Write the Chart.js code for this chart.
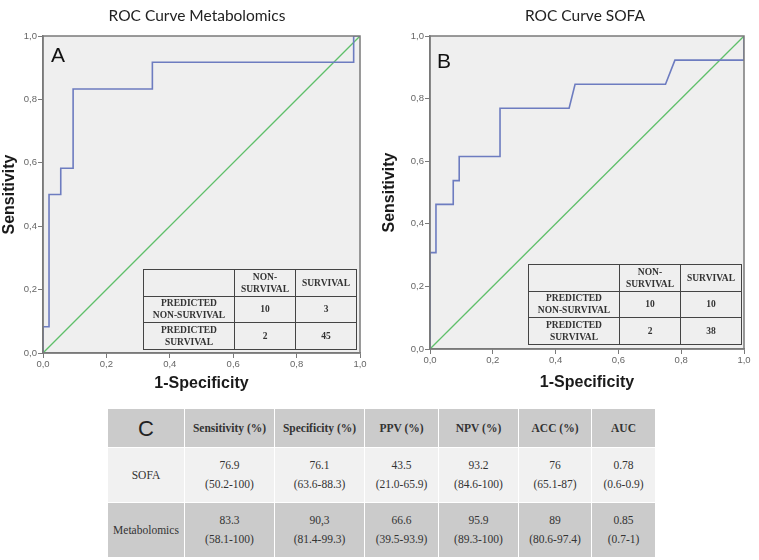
<!DOCTYPE html>
<html>
<head>
<meta charset="utf-8">
<script src="https://cdn.jsdelivr.net/npm/chart.js@4.4.1/dist/chart.umd.min.js"></script>
<style>
body{margin:0;background:#fff;width:759px;height:560px;position:relative;overflow:hidden;}
canvas{position:absolute;top:0;}
.ttl{position:absolute;top:5px;width:240px;line-height:20px;font-family:Lato,'Open Sans',sans-serif;font-size:15.5px;color:#222;text-align:center;white-space:nowrap;}
.lett{position:absolute;line-height:21px;font-family:'Liberation Sans',Arial,sans-serif;font-size:21px;color:#111;}
table{position:absolute;table-layout:fixed;text-align:center;color:#333;font-family:'Liberation Serif','Times New Roman',serif;}
table.inset{border-collapse:collapse;font-weight:bold;font-size:9.5px;line-height:12px;}
table.inset td{border:1.5px solid #444;padding:0;}
table.res{border-collapse:collapse;font-size:11.5px;}
table.res td{border:1.5px solid #fff;padding:0;line-height:19px;}
table.res tr.hd td{background:#cbcbcb;font-weight:bold;}
table.res tr.r1 td{background:#f1f1f1;}
table.res tr.r2 td{background:#cbcbcb;}
</style>
</head>
<body>
<canvas id="rocA" width="380" height="395" style="left:0"></canvas>
<canvas id="rocB" width="379" height="395" style="left:380px"></canvas>
<div class="ttl" style="left:77px">ROC Curve Metabolomics</div>
<div class="ttl" style="left:465px">ROC Curve SOFA</div>
<div class="lett" style="left:51px;top:44px">A</div>
<div class="lett" style="left:437px;top:50px">B</div>
<table class="inset" id="confA" style="left:143px;top:269px;width:213px;height:81px"></table>
<table class="inset" id="confB" style="left:528px;top:264px;width:213px;height:81px"></table>
<table class="res" id="tabC" style="left:107px;top:408px;width:548px;height:149px"></table>
<script>
// ROC curve A (metabolomics)
const metaFpr = [0, 0, 0.019, 0.019, 0.056, 0.056, 0.095, 0.095, 0.345, 0.345, 0.98, 0.98, 1];
const metaTpr = [0, 0.083, 0.083, 0.5, 0.5, 0.583, 0.583, 0.833, 0.833, 0.917, 0.917, 1, 1];
// ROC curve B (SOFA)
const sofaFpr = [0, 0, 0.019, 0.019, 0.074, 0.074, 0.093, 0.093, 0.223, 0.223, 0.443, 0.462, 0.75, 0.78, 1, 1];
const sofaTpr = [0, 0.308, 0.308, 0.462, 0.462, 0.538, 0.538, 0.615, 0.615, 0.769, 0.769, 0.846, 0.846, 0.923, 0.923, 1];
const refLine = [0, 1];
const axisTicks = [0, 0.2, 0.4, 0.6, 0.8, 1];

// confusion matrices
const confHead = ['', 'NON-<br>SURVIVAL', 'SURVIVAL'];
const confRows = ['PREDICTED<br>NON-SURVIVAL', 'PREDICTED<br>SURVIVAL'];
const metaConf = [[10, 3], [2, 45]];
const sofaConf = [[10, 10], [2, 38]];

// table C
const metricNames = ['Sensitivity (%)', 'Specificity (%)', 'PPV (%)', 'NPV (%)', 'ACC (%)', 'AUC'];
const modelNames = ['SOFA', 'Metabolomics'];
const sofaVals = ['76.9', '76.1', '43.5', '93.2', '76', '0.78'];
const sofaCI = ['(50.2-100)', '(63.6-88.3)', '(21.0-65.9)', '(84.6-100)', '(65.1-87)', '(0.6-0.9)'];
const metaVals = ['83.3', '90,3', '66.6', '95.9', '89', '0.85'];
const metaCI = ['(58.1-100)', '(81.4-99.3)', '(39.5-93.9)', '(89.3-100)', '(80.6-97.4)', '(0.7-1)'];
const colWidths = [77, 90, 90, 74, 80, 73, 64];

Chart.register({
    id: 'plotFrame',
    beforeDraw(chart) {
        const a = chart.chartArea;
        const ctx = chart.ctx;
        ctx.save();
        ctx.fillStyle = '#efefef';
        ctx.fillRect(a.left, a.top, a.right - a.left, a.bottom - a.top);
        ctx.restore();
    },
    afterDraw(chart) {
        const a = chart.chartArea;
        const ctx = chart.ctx;
        ctx.save();
        ctx.strokeStyle = '#7a7a7a';
        ctx.lineWidth = 1.5;
        ctx.strokeRect(a.left, a.top, a.right - a.left, a.bottom - a.top);
        ctx.restore();
    }
});

function toPoints(xs, ys) {
    return xs.map((x, i) => ({x: x, y: ys[i]}));
}

function commaTick(v) {
    return v.toFixed(1).replace('.', ',');
}

function createRoc(id, fpr, tpr, yWidth, xHeight, pad) {
    const ctx = document.getElementById(id).getContext('2d');
    const axisFont = {family: "'Liberation Sans', Arial, sans-serif", size: 9.5};
    const titleFont = {family: "'Liberation Sans', Arial, sans-serif", size: 16, weight: 'bold'};
    const myChart = new Chart(ctx, {
        type: 'line',
        data: {
            datasets: [{
                data: toPoints(fpr, tpr),
                borderColor: '#6d7cc0',
                borderWidth: 1.6,
                pointRadius: 0,
                tension: 0
            }, {
                data: toPoints(refLine, refLine),
                borderColor: '#5fbf6a',
                borderWidth: 1.3,
                pointRadius: 0,
                tension: 0
            }]
        },
        options: {
            responsive: false,
            animation: false,
            devicePixelRatio: 1,
            layout: {padding: pad},
            plugins: {legend: {display: false}, tooltip: {enabled: false}},
            scales: {
                x: {
                    type: 'linear', min: 0, max: 1,
                    afterBuildTicks: s => { s.ticks = axisTicks.map(v => ({value: v})); },
                    afterFit: s => { s.height = xHeight; },
                    grid: {drawOnChartArea: false, tickLength: 5, color: '#7a7a7a'},
                    border: {color: '#7a7a7a', width: 1.5},
                    ticks: {callback: commaTick, font: axisFont, color: '#666', padding: 1, maxRotation: 0},
                    title: {display: true, text: '1-Specificity', font: titleFont, color: '#1a1a1a', padding: 0}
                },
                y: {
                    type: 'linear', min: 0, max: 1,
                    afterBuildTicks: s => { s.ticks = axisTicks.map(v => ({value: v})); },
                    afterFit: s => { s.width = yWidth; },
                    grid: {drawOnChartArea: false, tickLength: 5, color: '#7a7a7a'},
                    border: {color: '#7a7a7a', width: 1.5},
                    ticks: {callback: commaTick, font: axisFont, color: '#666', padding: 1},
                    title: {display: true, text: 'Sensitivity', font: titleFont, color: '#1a1a1a', padding: 0}
                }
            }
        }
    });
    return myChart;
}

function fillConf(id, counts) {
    const t = document.getElementById(id);
    let html = '<colgroup><col style="width:91px"><col style="width:61px"><col style="width:61px"></colgroup>';
    html += '<tr>' + confHead.map(h => '<td>' + h + '</td>').join('') + '</tr>';
    confRows.forEach((r, i) => {
        html += '<tr><td>' + r + '</td><td>' + counts[i][0] + '</td><td>' + counts[i][1] + '</td></tr>';
    });
    t.innerHTML = html;
}

function fillResults() {
    const t = document.getElementById('tabC');
    let html = '<colgroup>' + colWidths.map(w => '<col style="width:' + w + 'px">').join('') + '</colgroup>';
    html += '<tr class="hd" style="height:39px"><td style="font-family:\'Liberation Sans\',Arial,sans-serif;font-weight:normal;font-size:22px;color:#222">C</td>'
        + metricNames.map(m => '<td>' + m + '</td>').join('') + '</tr>';
    const rows = [[sofaVals, sofaCI], [metaVals, metaCI]];
    rows.forEach((r, i) => {
        html += '<tr class="r' + (i + 1) + '" style="height:55px"><td>' + modelNames[i] + '</td>'
            + r[0].map((v, j) => '<td>' + v + '<br>' + r[1][j] + '</td>').join('') + '</tr>';
    });
    t.innerHTML = html;
}

createRoc('rocA', metaFpr, metaTpr, 43, 40, {left: 0, right: 20, top: 36, bottom: 2});
createRoc('rocB', sofaFpr, sofaTpr, 50, 43, {left: 0, right: 15, top: 36, bottom: 3});
fillConf('confA', metaConf);
fillConf('confB', sofaConf);
fillResults();
</script>
</body>
</html>
